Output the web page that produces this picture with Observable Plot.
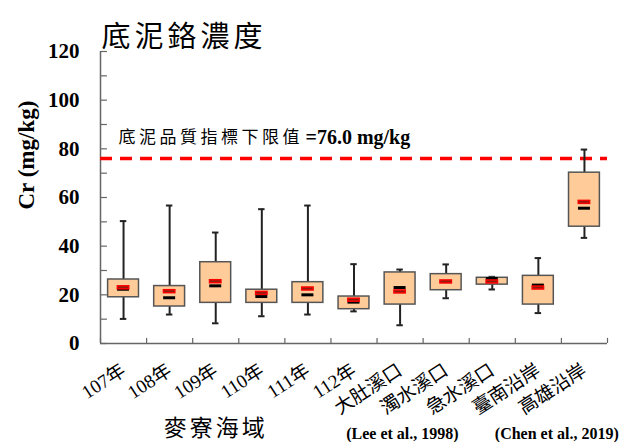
<!DOCTYPE html>
<html>
<head>
<meta charset="utf-8">
<script src="https://cdn.jsdelivr.net/npm/d3@7"></script>
<script src="https://cdn.jsdelivr.net/npm/@observablehq/plot@0.6"></script>
<style>
  html, body { margin: 0; padding: 0; background: #fff; }
  #chart svg { display: block; }
</style>
</head>
<body>
<div id="chart"></div>
<script>
const categories = ["107年","108年","109年","110年","111年","112年","大肚溪口","濁水溪口","急水溪口","臺南沿岸","高雄沿岸"];
const minV   = [10.1, 11.9,  8.3, 11.2, 11.9, 13.2,  7.5, 18.6, 22.2, 12.5, 43.4];
const q1V    = [19.0, 15.2, 16.7, 16.7, 16.7, 14.1, 16.0, 21.9, 24.2, 16.0, 48.0];
const medV   = [22.3, 18.8, 23.7, 19.3, 20.0, 17.0, 23.0, 25.5, 26.7, 24.0, 55.6];
const meanV  = [23.1, 21.5, 25.6, 20.8, 22.6, 18.0, 21.4, 25.5, 25.5, 23.0, 58.2];
const q3V    = [26.3, 23.6, 33.4, 22.1, 25.2, 19.3, 29.2, 28.5, 27.0, 27.8, 70.2];
const maxV   = [50.3, 56.7, 45.6, 55.2, 56.7, 32.6, 30.4, 32.5, 27.4, 35.1, 79.7];
const yTickLabels = [0, 20, 40, 60, 80, 100, 120];
const yMinorTicks = [0, 10, 20, 30, 40, 50, 60, 70, 80, 90, 100, 110, 120];
const threshold = 76.0;
const titleText = "底泥鉻濃度";
const yLabel = "Cr (mg/kg)";
const thresholdLabelCJK = "底泥品質指標下限值";
const thresholdLabelNum = "=76.0 mg/kg";
const groupLabel = "麥寮海域";
const ref1 = "(Lee et al., 1998)";
const ref2 = "(Chen et al., 2019)";

const rows = categories.map((c, i) => ({
  cat: c, pos: i + 0.5,
  min: minV[i], q1: q1V[i], med: medV[i], mean: meanV[i], q3: q3V[i], max: maxV[i]
}));
const boundaries = d3.range(0, categories.length + 1);

const serif = "'Liberation Serif', 'Times New Roman', serif";
const cjk = "'Liberation Serif', 'Noto Sans CJK TC', 'Noto Sans CJK SC', sans-serif";
const boxHalf = 0.335, capHalf = 0.07, medHalf = 0.13;

const chart = Plot.plot({
  width: 628,
  height: 442,
  marginLeft: 100,
  marginRight: 21,
  marginTop: 51,
  marginBottom: 99,
  x: {domain: [0, categories.length], axis: null},
  y: {domain: [0, 120], axis: null},
  style: {fontFamily: cjk, background: "#fff", color: "#000"},
  marks: [
    Plot.ruleX([0], {y1: 0, y2: 120, stroke: "#666", strokeWidth: 1.5}),
    Plot.ruleY([0], {x1: 0, x2: categories.length, stroke: "#666", strokeWidth: 1.5}),
    Plot.ruleY(yMinorTicks, {y: d => d, x1: 0, x2: 0.15, stroke: "#666", strokeWidth: 1.2}),
    Plot.ruleX(boundaries, {x: d => d, y1: 0, y2: 2.1, stroke: "#666", strokeWidth: 1.2}),
    Plot.axisY({ticks: yTickLabels, tickSize: 0, tickPadding: 21, label: null,
      fontSize: 21, fontWeight: "bold", fontFamily: serif}),
    Plot.ruleY([threshold], {x1: 0, x2: categories.length, stroke: "#ff0000", strokeWidth: 3.5, strokeDasharray: "12,8"}),
    Plot.text([thresholdLabelCJK], {frameAnchor: "left", y: () => threshold, dx: 18, dy: -21,
      textAnchor: "start", fontSize: 17, fontFamily: cjk, fill: "#000"}),
    Plot.text([thresholdLabelNum], {frameAnchor: "left", y: () => threshold, dx: 205, dy: -21,
      textAnchor: "start", fontSize: 20, fontWeight: "bold", fontFamily: serif, fill: "#000"}),
    Plot.ruleX(rows, {x: "pos", y1: "min", y2: "max", stroke: "#222", strokeWidth: 2}),
    Plot.ruleY(rows, {y: "max", x1: d => d.pos - capHalf, x2: d => d.pos + capHalf, stroke: "#222", strokeWidth: 2}),
    Plot.ruleY(rows, {y: "min", x1: d => d.pos - capHalf, x2: d => d.pos + capHalf, stroke: "#222", strokeWidth: 2}),
    Plot.rect(rows, {x1: d => d.pos - boxHalf, x2: d => d.pos + boxHalf, y1: "q1", y2: "q3",
      fill: "#ffcc99", stroke: "#555", strokeWidth: 1.5}),
    Plot.ruleY(rows, {y: "med", x1: d => d.pos - medHalf, x2: d => d.pos + medHalf, stroke: "#000", strokeWidth: 3}),
    Plot.ruleY(rows, {y: "mean", x1: d => d.pos - 0.14, x2: d => d.pos + 0.14, stroke: "#ff0000", strokeWidth: 4.5}),
    Plot.ruleY(rows, {y: "mean", x1: d => d.pos - 0.11, x2: d => d.pos + 0.11, stroke: "#8b2010", strokeWidth: 1.5}),
    Plot.text(rows, {x: "pos", y: () => 0, text: "cat", rotate: -33, textAnchor: "end",
      dx: 0, dy: 25, fontSize: 19, fontFamily: cjk, fill: "#000"}),
    Plot.text([titleText], {frameAnchor: "top-left", dx: 1, dy: -25, textAnchor: "start",
      fontSize: 29, fontFamily: cjk, fill: "#000"}),
    Plot.text([yLabel], {frameAnchor: "left", dx: -74, dy: 12, rotate: -90,
      fontSize: 23, fontWeight: "bold", fontFamily: serif, fill: "#000"}),
    Plot.text([groupLabel], {x: () => 2.5, y: () => 0, dy: 85, fontSize: 23, fontFamily: cjk, fill: "#000"}),
    Plot.text([ref1], {x: () => 6.55, y: () => 0, dy: 90, fontSize: 16, fontWeight: "bold", fontFamily: serif, fill: "#000"}),
    Plot.text([ref2], {x: () => 9.9, y: () => 0, dy: 90, fontSize: 16, fontWeight: "bold", fontFamily: serif, fill: "#000"})
  ]
});

const spacing = new Map([
  [titleText, "4px"],
  [thresholdLabelCJK, "3.5px"],
  [groupLabel, "3px"]
]);
d3.select(chart).selectAll("text").each(function() {
  const s = spacing.get(this.textContent);
  if (s) this.style.letterSpacing = s;
});
document.getElementById("chart").appendChild(chart);
</script>
</body>
</html>
